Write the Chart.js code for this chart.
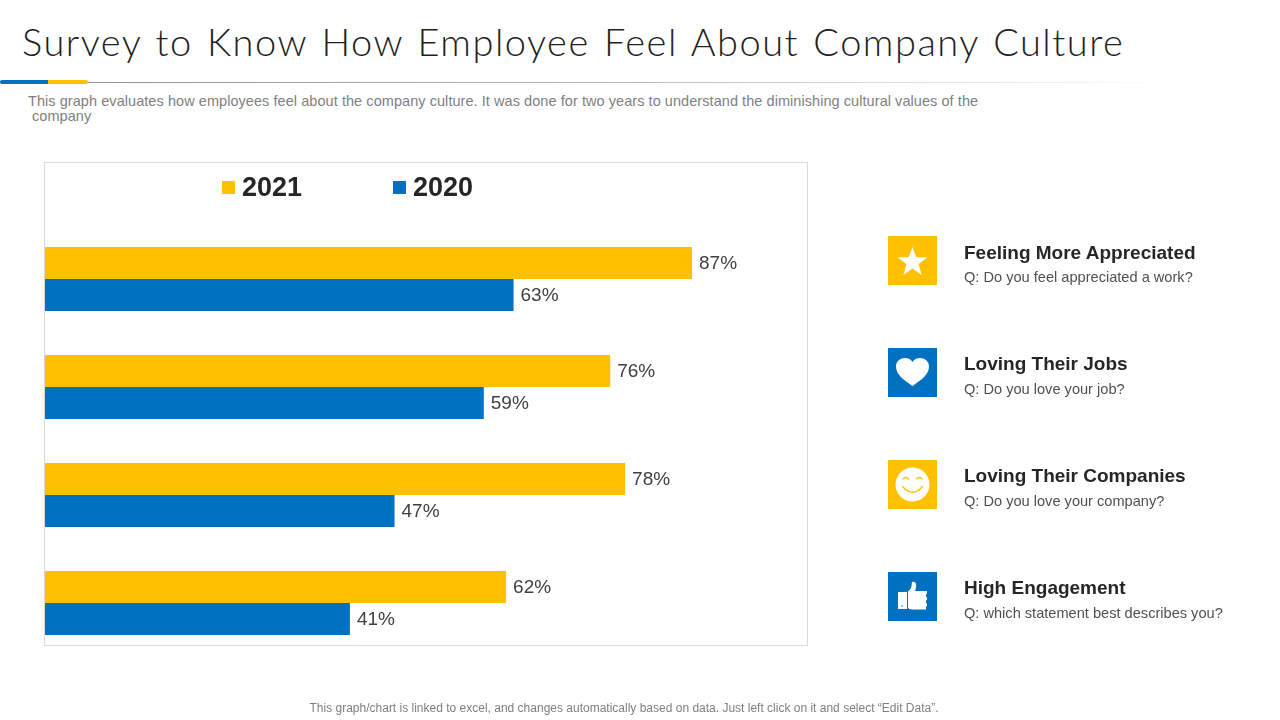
<!DOCTYPE html>
<html><head><meta charset="utf-8">
<script src="https://cdn.jsdelivr.net/npm/chart.js@4"></script>
<style>
html,body{margin:0;padding:0;background:#fff;width:1280px;height:720px;overflow:hidden;font-family:"Liberation Sans",Arial,sans-serif}
.abs{position:absolute;white-space:nowrap}
#title{left:22px;top:16px;font:300 38px/50px Lato,sans-serif;color:#1f1f1f;letter-spacing:1.5px;word-spacing:2.4px}
#rule{left:0;top:82px;width:1170px;height:1px;background:linear-gradient(90deg,#8c8c8c 0,#b5b5b5 50%,#fff 100%)}
#b1{left:0;top:80px;width:48px;height:4px;background:#0070C0;border-radius:2px 0 0 2px}
#b2{left:48px;top:80px;width:40px;height:4px;background:#FFC000;border-radius:0 2px 2px 0}
.sub{font-size:14.5px;line-height:16px;color:#7f7f7f;letter-spacing:.06px}
#box{left:44px;top:162px;width:762px;height:482px;border:1px solid #d9d9d9}
#c{position:absolute;left:0;top:0}
.lg{font-weight:bold;font-size:27px;line-height:32px;color:#262626;top:171px}
.sw{width:13px;height:13px;top:181px}
.icon{left:888px;width:49px;height:49px}
.h{left:964px;font-weight:bold;font-size:19px;line-height:24px;color:#262626}
.q{left:964px;font-size:14.6px;line-height:18px;color:#505050}
#foot{left:0;width:1248px;text-align:center;top:701px;font-size:12px;line-height:15px;color:#7f7f7f}
</style></head><body>
<div class="abs" id="title">Survey to Know How Employee Feel About Company Culture</div>
<div class="abs" id="rule"></div><div class="abs" id="b1"></div><div class="abs" id="b2"></div>
<div class="abs sub" style="left:28px;top:93px">This graph evaluates how employees feel about the company culture. It was done for two years to understand the diminishing cultural values of the</div>
<div class="abs sub" style="left:32px;top:108px">company</div>
<div class="abs" id="box"></div>
<canvas id="c" width="1280" height="720" style="width:1280px;height:720px"></canvas>
<div id="legend"></div>
<div id="side"></div>
<div class="abs" id="foot">This graph/chart is linked to excel, and changes automatically based on data. Just left click on it and select “Edit Data”.</div>
<script>
const categories = ["Feeling More Appreciated","Loving Their Jobs","Loving Their Companies","High Engagement"];
const questions = ["Q: Do you feel appreciated a work?","Q: Do you love your job?","Q: Do you love your company?","Q: which statement best describes you?"];
const values2021 = [87,76,78,62];
const values2020 = [63,59,47,41];
const seriesNames = ["2021","2020"];
const colors = ["#FFC000","#0070C0"];

const valueLabels = {
  id:'valueLabels',
  afterDatasetsDraw(chart){
    const ctx=chart.ctx;
    ctx.save();
    ctx.font='19px "Liberation Sans"';
    ctx.fillStyle='#404040';
    ctx.textAlign='left';ctx.textBaseline='middle';
    chart.data.datasets.forEach((ds,i)=>{
      chart.getDatasetMeta(i).data.forEach((bar,j)=>{
        ctx.fillText(ds.data[j]+'%',bar.x+7,bar.y+1);
      });
    });
    ctx.restore();
  }
};

new Chart(document.getElementById('c'),{
  type:'bar',
  data:{labels:categories,datasets:[
    {label:seriesNames[0],data:values2021,backgroundColor:colors[0],categoryPercentage:64/108,barPercentage:1},
    {label:seriesNames[1],data:values2020,backgroundColor:colors[1],categoryPercentage:64/108,barPercentage:1}
  ]},
  options:{
    indexAxis:'y',responsive:false,animation:false,
    layout:{padding:{left:45,top:225,bottom:63,right:491.3}},
    plugins:{legend:{display:false},tooltip:{enabled:false}},
    scales:{
      x:{display:false,min:0,max:100},
      y:{display:false}
    }
  },
  plugins:[valueLabels]
});

const legendPos=[[222,242],[393,413]];
document.getElementById('legend').innerHTML=seriesNames.map((s,i)=>
  `<div class="abs sw" style="left:${legendPos[i][0]}px;background:${colors[i]}"></div><div class="abs lg" style="left:${legendPos[i][1]}px">${s}</div>`).join('');

const iconBg=[colors[0],colors[1],colors[0],colors[1]];
const glyphs=[
 '<polygon fill="#fff" points="24.5,11 28.2,21 39.400,21.400 30.500,28 33.700,39 24.500,32.600 15.300,39 18.500,28 9.600,21.400 20.800,21"/>',
 '<path fill="#fff" d="M24.5 38 C16 32 8 27 8 18.500 C8 13 12.500 10 17 10 C20.500 10 23 11.500 24.500 14 C26 11.500 28.500 10 32 10 C36.500 10 41 13 41 18.500 C41 27 33 32 24.500 38Z"/>',
 '<circle cx="24.5" cy="24.5" r="17" fill="#fff"/><path d="M15 19q2.800-3 5.600 0M28.400 19q2.800-3 5.600 0M14.500 26.500q10 11.500 20 0" fill="none" stroke="#FFC000" stroke-width="1.3" stroke-linecap="round"/>',
 '<path fill="#fff" d="M10 20h9v17h-9z"/><path fill="#fff" d="M20 19.500c2.500-1.500 3.800-4.500 3.800-8.500 0-1.800 3.600-1.800 4.200 1 .5 2.500-.3 5-1 7H39v3h-1v3.300h1v3h-1v3h1v3h-1v3.200H24c-2 0-4-1-4-2z"/><circle cx="14" cy="34" r="0.800" fill="#0070C0"/>'
];
const ys=[236,348,460,572];
const headOffset=[5,4,4,4];
document.getElementById('side').innerHTML=categories.map((c,i)=>
 `<svg class="abs icon" style="top:${ys[i]}px" viewBox="0 0 49 49"><rect width="49" height="49" fill="${iconBg[i]}"/>${glyphs[i]}</svg>
  <div class="abs h" style="top:${ys[i]+headOffset[i]}px">${c}</div>
  <div class="abs q" style="top:${ys[i]+32}px">${questions[i]}</div>`).join('');
</script>
</body></html>
